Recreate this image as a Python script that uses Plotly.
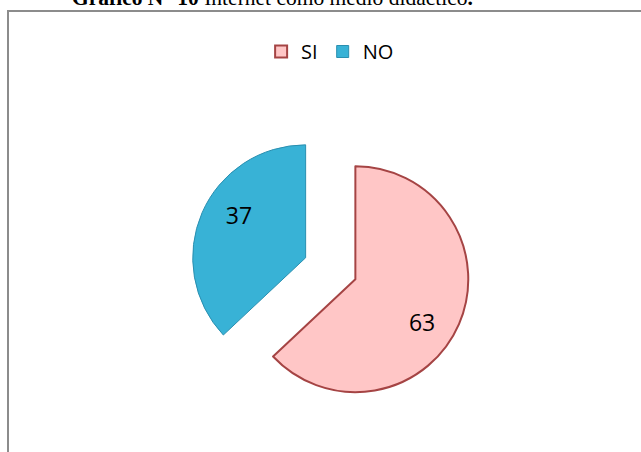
import plotly.graph_objects as go

# Data
categories = ["SI", "NO"]
values = [63, 37]
title_bold = "Gráfico N° 10"
title_rest = " Internet como medio didáctico"

slice_colors = ["#FFC6C6", "#38B2D6"]
slice_lines = ["#A54444", "#2A8FB0"]
pulls = [0.24, 0.24]

W, H = 641, 452
dom_x = [(330.5 - 150) / W, (330.5 + 150) / W]
dom_y = [1 - 408.5 / H, 1 - 128.5 / H]

fig = go.Figure()

# main slices
fig.add_trace(go.Pie(
    labels=categories, values=values, sort=False, direction="clockwise", rotation=0,
    pull=pulls, textinfo="none", hoverinfo="label+value",
    marker=dict(colors=slice_colors, line=dict(color=slice_lines, width=[2, 1])),
    domain=dict(x=dom_x, y=dom_y), showlegend=True,
))

# overlay for label placement (transparent ring)
fig.add_trace(go.Pie(
    labels=categories, values=values, sort=False, direction="clockwise", rotation=7,
    pull=pulls, hole=0.4, textinfo="value", textposition="inside",
    insidetextorientation="horizontal",
    textfont=dict(family="Open Sans", size=23, color="#000000"),
    marker=dict(colors=["rgba(0,0,0,0)", "rgba(0,0,0,0)"], line=dict(width=0)),
    domain=dict(x=dom_x, y=dom_y), showlegend=False, hoverinfo="skip",
))

fig.update_layout(
    width=W, height=H,
    margin=dict(l=0, r=0, t=0, b=0),
    paper_bgcolor="white", plot_bgcolor="white",
    showlegend=True,
    legend=dict(orientation="h", x=0.515, xanchor="center", y=1 - 32 / H, yanchor="top",
                font=dict(family="Open Sans", size=20, color="#000000"),
                itemclick=False, itemdoubleclick=False, bgcolor="rgba(0,0,0,0)"),
    shapes=[dict(type="rect", xref="paper", yref="paper",
                 x0=8 / W, x1=1.02, y0=-0.02, y1=1 - 11 / H,
                 line=dict(color="#8c8c8c", width=2), fillcolor="rgba(0,0,0,0)", layer="below")],
    annotations=[dict(text="<b>" + title_bold + "</b>" + title_rest + "<b>.</b>",
                      xref="paper", yref="paper", x=272 / W, xanchor="center",
                      y=1 - 12 / H, yanchor="bottom", showarrow=False,
                      font=dict(family="Liberation Serif", size=21.5, color="#000000"))],
)

fig.write_html("out.html",
               config={"displayModeBar": False},
               post_script="document.body.style.margin='0px';document.body.style.overflow='hidden';")
